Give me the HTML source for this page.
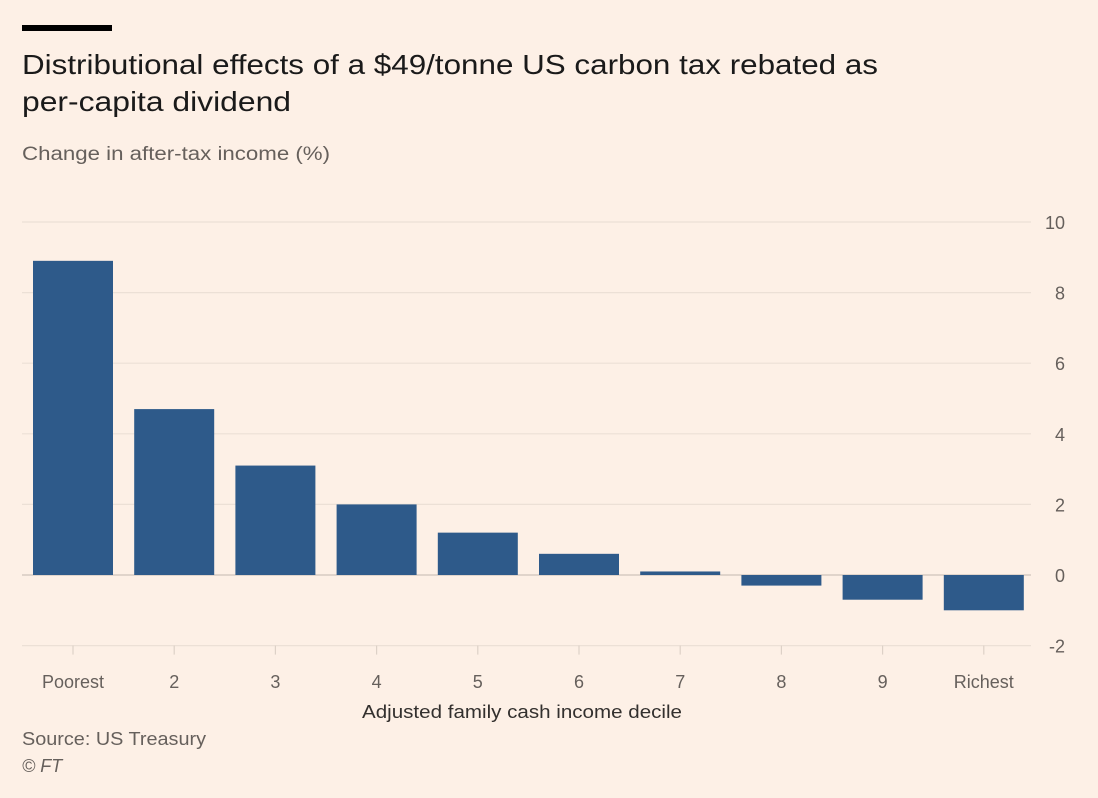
<!DOCTYPE html>
<html><head><meta charset="utf-8"><style>
body{margin:0;background:#fdf0e6;width:1098px;height:798px;overflow:hidden;font-family:"Liberation Sans",sans-serif}
svg{display:block}
</style></head><body>
<svg id="c" width="1098" height="798">
<rect x="0" y="0" width="1098" height="798" fill="#fdf0e6"/>
<rect x="22" y="25" width="90" height="6" fill="#000"/>
<text x="22" y="74" font-size="28" fill="#1a1a1a" textLength="856" lengthAdjust="spacingAndGlyphs">Distributional effects of a $49/tonne US carbon tax rebated as</text>
<text x="22" y="111" font-size="28" fill="#1a1a1a" textLength="269" lengthAdjust="spacingAndGlyphs">per-capita dividend</text>
<text x="22" y="160" font-size="19" fill="#66605c" textLength="308" lengthAdjust="spacingAndGlyphs">Change in after-tax income (%)</text>
<g id="grid"></g>
<g id="bars"></g>
<g id="xt"></g>
<text x="522" y="718" font-size="18" fill="#33302e" text-anchor="middle" textLength="320" lengthAdjust="spacingAndGlyphs">Adjusted family cash income decile</text>
<text x="22" y="745" font-size="18" fill="#66605c" textLength="184" lengthAdjust="spacingAndGlyphs">Source: US Treasury</text>
<text x="22" y="772" font-size="18" font-style="italic" fill="#66605c">© FT</text>
</svg>
<script>
const categories=["Poorest","2","3","4","5","6","7","8","9","Richest"];
const values=[8.9,4.7,3.1,2.0,1.2,0.6,0.1,-0.3,-0.7,-1.0];
const yTicks=[10,8,6,4,2,0,-2];
const NS="http://www.w3.org/2000/svg";
const x0=22,x1=1031,y0=575,ppu=35.3;
const bandStart=33,bandW=101.2;
const y=v=>y0-v*ppu;
function mk(t,a,p){const e=document.createElementNS(NS,t);for(const k in a)e.setAttribute(k,a[k]);p.appendChild(e);return e;}
const g=document.getElementById('grid');
yTicks.forEach(t=>{
 const l=mk('line',{x1:x0,x2:x1,y1:y(t),y2:y(t),stroke:t===0?'#d6cbc2':'#ece0d6','stroke-width':t===0?1.5:1.2},g);
 
 
 const tx=mk('text',{x:1065,y:y(t)+7,'font-size':18,fill:'#66605c','text-anchor':'end'},g);
 tx.textContent=t;
 
 
});
const b=document.getElementById('bars'),xt=document.getElementById('xt');
categories.forEach((c,i)=>{
 const v=values[i];
 const bx=bandStart+i*bandW;
 const r=mk('rect',{x:bx,width:80,y:Math.min(y(v),y0),height:Math.max(Math.abs(y(v)-y0),1),fill:'#2e5a8a'},b);
 
 
 const cx=bx+40;
 const tk=mk('line',{x1:cx,x2:cx,y1:y(-2),y2:y(-2)+9,stroke:'#ddd1c7','stroke-width':1.2},xt);
 
 
 const t=mk('text',{x:cx,y:688,'font-size':18,fill:'#66605c','text-anchor':'middle'},xt);
 t.textContent=c;
 
 
});
</script>
</body></html>
